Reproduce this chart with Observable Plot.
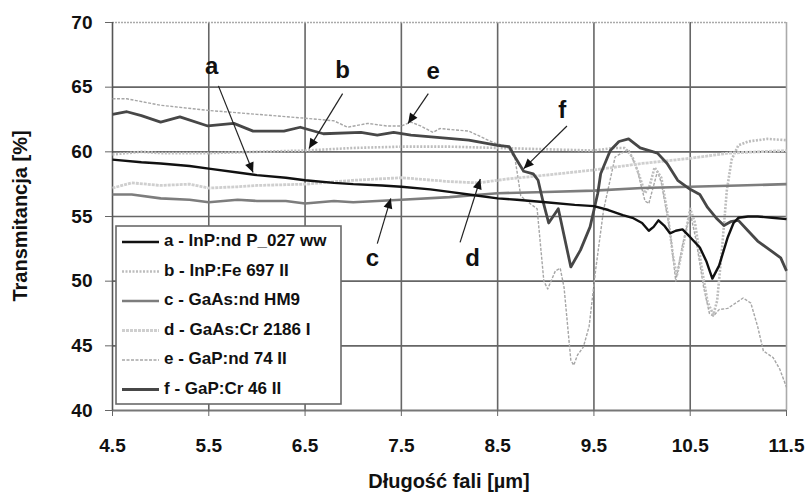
<!DOCTYPE html>
<html>
<head>
<meta charset="utf-8">
<script src="https://cdn.jsdelivr.net/npm/d3@7"></script>
<script src="https://cdn.jsdelivr.net/npm/@observablehq/plot@0.6"></script>
<style>
  html, body { margin: 0; padding: 0; background: #fff; }
  #chart { width: 808px; height: 498px; }
</style>
</head>
<body>
<div id="chart"></div>
<script>
// ---------- data ----------
const xTicks = [4.5, 5.5, 6.5, 7.5, 8.5, 9.5, 10.5, 11.5];
const yTicks = [40, 45, 50, 55, 60, 65, 70];

const xTitle = "Długość fali [µm]";
const yTitle = "Transmitancja [%]";

const seriesKeys = ["a", "b", "c", "d", "e", "f"];
const legendLabels = [
  "a - InP:nd P_027 ww",
  "b - InP:Fe 697 II",
  "c - GaAs:nd HM9",
  "d - GaAs:Cr 2186 I",
  "e - GaP:nd 74 II",
  "f - GaP:Cr 46 II"
];

// a - InP:nd P_027 ww
const aX = [4.5, 4.8, 5.0, 5.3, 5.5, 5.8, 6.0, 6.3, 6.5, 6.8, 7.0, 7.3, 7.5, 7.8, 8.0, 8.2, 8.5, 8.7, 9.0, 9.3, 9.5, 9.65, 9.8, 9.9, 10.0, 10.07, 10.12, 10.17, 10.23, 10.29, 10.35, 10.42, 10.5, 10.6, 10.67, 10.73, 10.8, 10.89, 10.95, 11.0, 11.1, 11.2, 11.35, 11.5];
const aY = [59.4, 59.2, 59.1, 58.9, 58.7, 58.4, 58.2, 58.0, 57.8, 57.6, 57.5, 57.4, 57.3, 57.1, 56.9, 56.7, 56.4, 56.3, 56.1, 55.9, 55.8, 55.5, 55.1, 54.9, 54.5, 53.9, 54.2, 54.7, 54.3, 53.7, 53.9, 54.0, 53.4, 52.6, 51.5, 50.2, 51.2, 53.4, 54.5, 54.9, 55.0, 55.0, 54.9, 54.8];

// b - InP:Fe 697 II
const bX = [4.5, 4.8, 5.0, 5.5, 6.0, 6.5, 7.0, 7.5, 8.0, 8.5, 9.0, 9.5, 9.7, 9.82, 9.9, 9.97, 10.03, 10.08, 10.13, 10.2, 10.27, 10.32, 10.36, 10.42, 10.5, 10.55, 10.62, 10.68, 10.74, 10.78, 10.83, 10.88, 10.93, 11.0, 11.1, 11.3, 11.5];
const bY = [59.8, 60.0, 59.9, 59.9, 60.0, 60.1, 60.3, 60.4, 60.4, 60.3, 60.2, 60.1, 60.3, 60.3, 59.6, 58.2, 56.8, 57.4, 58.8, 58.0, 55.0, 52.0, 50.4, 52.5, 55.6, 54.5, 51.0, 48.4, 47.4, 48.5, 52.5, 57.0, 59.4, 60.5, 60.8, 61.0, 60.9];

// c - GaAs:nd HM9
const cX = [4.5, 4.7, 5.0, 5.3, 5.5, 5.8, 6.0, 6.3, 6.5, 6.8, 7.0, 7.5, 8.0, 8.5, 9.0, 9.5, 10.0, 10.5, 11.0, 11.5];
const cY = [56.7, 56.7, 56.4, 56.3, 56.1, 56.3, 56.2, 56.2, 56.0, 56.2, 56.1, 56.3, 56.5, 56.8, 56.9, 57.0, 57.2, 57.3, 57.4, 57.5];

// d - GaAs:Cr 2186 I
const dX = [4.5, 4.7, 5.0, 5.3, 5.5, 5.8, 6.0, 6.5, 7.0, 7.5, 8.0, 8.3, 8.6, 9.0, 9.5, 10.0, 10.5, 10.9, 11.2, 11.5];
const dY = [57.2, 57.6, 57.4, 57.5, 57.2, 57.3, 57.4, 57.5, 57.8, 58.0, 57.7, 57.6, 57.9, 58.2, 58.6, 59.1, 59.5, 59.9, 60.0, 60.1];

// e - GaP:nd 74 II
const eX = [4.5, 4.65, 5.0, 5.5, 6.0, 6.5, 6.8, 6.94, 7.15, 7.35, 7.5, 7.6, 7.7, 7.83, 7.9, 8.2, 8.46, 8.6, 8.68, 8.74, 8.8, 8.91, 8.98, 9.02, 9.1, 9.15, 9.19, 9.26, 9.29, 9.33, 9.39, 9.45, 9.52, 9.6, 9.72, 9.81, 9.86, 9.95, 10.03, 10.07, 10.16, 10.2, 10.29, 10.35, 10.42, 10.5, 10.56, 10.64, 10.7, 10.74, 10.8, 10.89, 11.05, 11.13, 11.2, 11.26, 11.36, 11.43, 11.5];
const eY = [64.1, 64.1, 63.6, 63.2, 62.9, 62.6, 62.4, 61.9, 62.2, 62.0, 62.0, 62.3, 62.0, 61.5, 61.8, 61.6, 60.7, 60.4, 59.5, 56.6, 56.2, 55.6, 50.0, 49.4, 50.8, 51.0, 49.5, 43.9, 43.5, 44.3, 44.9, 46.5, 51.0, 55.5, 59.6, 60.0, 60.2, 58.6, 56.2, 56.0, 58.5, 57.6, 53.9, 50.0, 52.8, 55.3, 53.2, 49.5, 47.5, 47.3, 47.8, 47.9, 48.7, 48.3, 46.5, 44.6, 44.1, 43.2, 41.8];

// f - GaP:Cr 46 II
const fX = [4.5, 4.65, 4.8, 5.0, 5.2, 5.49, 5.76, 5.96, 6.28, 6.45, 6.69, 7.08, 7.25, 7.42, 7.6, 7.9, 8.2, 8.5, 8.62, 8.68, 8.77, 8.87, 8.92, 8.97, 9.03, 9.13, 9.26, 9.36, 9.46, 9.54, 9.57, 9.67, 9.76, 9.86, 9.98, 10.16, 10.26, 10.37, 10.5, 10.6, 10.68, 10.78, 10.85, 10.92, 11.0, 11.1, 11.2, 11.33, 11.44, 11.5];
const fY = [62.9, 63.1, 62.8, 62.3, 62.7, 62.0, 62.2, 61.6, 61.6, 61.9, 61.4, 61.5, 61.3, 61.5, 61.3, 61.1, 60.9, 60.5, 60.4, 59.6, 58.5, 58.3, 57.8, 56.2, 54.5, 55.6, 51.1, 52.4, 54.2, 56.8, 58.3, 60.1, 60.8, 61.0, 60.3, 59.9, 59.1, 57.8, 57.1, 56.7, 55.7, 54.8, 54.3, 54.6, 54.7, 53.9, 53.1, 52.4, 51.8, 50.8];

// annotations (data units)
const annLabels = ["a", "b", "c", "d", "e", "f"];
const annTextX = [5.53, 6.89, 7.2, 8.24, 7.83, 9.17];
const annTextY = [66.6, 66.3, 51.8, 51.8, 66.2, 63.2];
const arrowFromX = [5.6, 6.89, 7.25, 8.11, 7.78, 9.22];
const arrowFromY = [65.1, 64.5, 52.9, 53.0, 64.5, 62.0];
const arrowToX = [5.96, 6.54, 7.39, 8.32, 7.57, 8.77];
const arrowToY = [58.4, 60.25, 56.4, 57.9, 62.2, 58.7];

// ---------- styles ----------
const FONT = "'Liberation Sans', Arial, Helvetica, sans-serif";
const styles = {
  a: {stroke: "#111111", strokeWidth: 2.4},
  b: {stroke: "#bdbdbd", strokeWidth: 2.6, strokeDasharray: "2,1.5"},
  c: {stroke: "#7d7d7d", strokeWidth: 2.6},
  d: {stroke: "#cfcfcf", strokeWidth: 2.8, strokeDasharray: "3,1"},
  e: {stroke: "#a6a6a6", strokeWidth: 1.4, strokeDasharray: "3,1.5"},
  f: {stroke: "#474747", strokeWidth: 2.8}
};

const seriesData = {
  a: aX.map((x, i) => ({x, y: aY[i]})),
  b: bX.map((x, i) => ({x, y: bY[i]})),
  c: cX.map((x, i) => ({x, y: cY[i]})),
  d: dX.map((x, i) => ({x, y: dY[i]})),
  e: eX.map((x, i) => ({x, y: eY[i]})),
  f: fX.map((x, i) => ({x, y: fY[i]}))
};

const annRows = annLabels.map((t, i) => ({t, x: annTextX[i], y: annTextY[i]}));
const arrowRows = annLabels.map((t, i) => ({x1: arrowFromX[i], y1: arrowFromY[i], x2: arrowToX[i], y2: arrowToY[i]}));

const gridStyle = {stroke: "#666", strokeOpacity: 1, strokeWidth: 1.6};
const drawOrder = ["e", "b", "d", "c", "f", "a"];

const plot = Plot.plot({
  width: 808,
  height: 498,
  marginLeft: 112,
  marginRight: 22,
  marginTop: 22,
  marginBottom: 88,
  style: {fontFamily: FONT, fontWeight: "bold", fontSize: "19px", color: "#111", background: "#fff"},
  x: {domain: [4.5, 11.5]},
  y: {domain: [40, 70]},
  marks: [
    Plot.gridY(yTicks.filter(v => v > 40 && v < 70), gridStyle),
    Plot.gridX(xTicks.filter(v => v > 4.5 && v < 11.5), gridStyle),
    Plot.ruleY([70], {stroke: "#aaa", strokeWidth: 1.6, strokeDasharray: "2,1"}),
    Plot.ruleX([11.5], {stroke: "#aaa", strokeWidth: 1.6}),
    Plot.ruleY([40], {stroke: "#777", strokeWidth: 2}),
    Plot.ruleX([4.5], {stroke: "#555", strokeWidth: 1.6}),
    Plot.axisX({ticks: xTicks, tickFormat: d3.format(".1f"), tickSize: 6, tickPadding: 22, label: null, stroke: "#666", fontSize: 19, fontWeight: "bold"}),
    Plot.axisY({ticks: yTicks, tickSize: 7, tickPadding: 13, label: null, stroke: "#666", fontSize: 19, fontWeight: "bold"}),
    ...drawOrder.map(k => Plot.line(seriesData[k], {x: "x", y: "y", ...styles[k], strokeLinejoin: "round", strokeLinecap: "butt"})),
    Plot.link(arrowRows, {x1: "x1", y1: "y1", x2: "x2", y2: "y2", stroke: "#222", strokeWidth: 1.2}),
    Plot.text(annRows, {x: "x", y: "y", text: "t", fontSize: 24, fontWeight: "bold", fill: "#111"})
  ]
});

document.getElementById("chart").appendChild(plot);

// ---------- post-processing: arrowheads, titles, legend ----------
const svg = d3.select(plot);
const defs = svg.append("defs");
defs.append("marker")
  .attr("id", "ahead")
  .attr("viewBox", "0 -5 10 10")
  .attr("refX", 10).attr("refY", 0)
  .attr("markerUnits", "userSpaceOnUse")
  .attr("markerWidth", 11).attr("markerHeight", 10)
  .attr("orient", "auto")
  .append("path").attr("d", "M0,-4.5L10,0L0,4.5Z").attr("fill", "#111");
svg.selectAll('g[aria-label="link"] path').attr("marker-end", "url(#ahead)");

const mL = 112, mR = 22, mT = 22, mB = 88, W = 808, H = 498;
svg.append("text")
  .attr("x", (mL + W - mR) / 2).attr("y", 483)
  .attr("text-anchor", "middle").attr("dominant-baseline", "middle")
  .attr("font-size", 20).attr("font-weight", "bold").attr("fill", "#111")
  .text(xTitle);
svg.append("text")
  .attr("transform", `translate(22,${(mT + H - mB) / 2}) rotate(-90)`)
  .attr("text-anchor", "middle").attr("dominant-baseline", "middle")
  .attr("font-size", 20).attr("font-weight", "bold").attr("fill", "#111")
  .text(yTitle);

// legend inside the plot area (lower-left)
const lg = svg.append("g").attr("transform", "translate(116,226)");
lg.append("rect").attr("x", 0).attr("y", 0).attr("width", 225).attr("height", 178)
  .attr("fill", "#fff").attr("stroke", "#6a6a6a").attr("stroke-width", 1.6);
seriesKeys.forEach((k, i) => {
  const yy = 16 + i * 29.5;
  const st = styles[k];
  lg.append("line").attr("x1", 6).attr("x2", 43).attr("y1", yy).attr("y2", yy)
    .attr("stroke", st.stroke).attr("stroke-width", st.strokeWidth)
    .attr("stroke-dasharray", st.strokeDasharray || null);
  lg.append("text").attr("x", 48).attr("y", yy)
    .attr("text-anchor", "start")
    .attr("dominant-baseline", "middle")
    .attr("font-size", 17).attr("font-weight", "bold").attr("fill", "#111")
    .text(legendLabels[i]);
});
</script>
</body>
</html>
